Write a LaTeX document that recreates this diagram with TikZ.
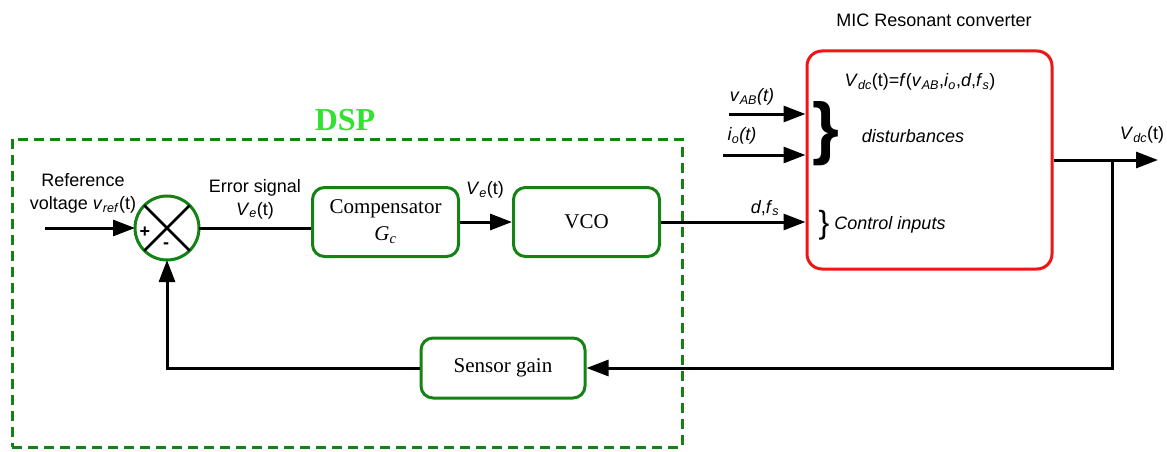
\documentclass[tikz,border=0pt]{standalone}
\usepackage{fontspec}
\setmainfont{Liberation Sans}
\newfontfamily\timesfont{Liberation Serif}
\usetikzlibrary{positioning,arrows.meta}
\definecolor{boxgreen}{RGB}{20,130,20}
\definecolor{dspgreen}{RGB}{50,225,50}
\definecolor{convred}{RGB}{240,20,20}
\newcommand{\vsub}[2]{\textit{#1}\textsubscript{\textit{#2}}}

\begin{document}
\begin{tikzpicture}[x=1pt,y=-1pt,line width=3pt,
                    >={Triangle[length=22pt,width=16pt]},
                    every node/.style={font=\fontsize{18}{23}\selectfont},
                    block/.style={draw=boxgreen,rounded corners=12pt,minimum width=146pt,minimum height=69pt,
                                  align=center,font=\timesfont\fontsize{21}{27}\selectfont},
                    sum node/.style={circle,draw=boxgreen,minimum size=64pt,inner sep=0pt,outer sep=0pt}]
	\useasboundingbox (0,0) rectangle (1167,452);

	% DSP frame
	\node[draw=boxgreen,dash pattern=on 10pt off 6pt,minimum width=670pt,minimum height=308pt] (dsp) at (347,293) {};
	\node[font=\timesfont\bfseries\fontsize{32}{32}\selectfont,text=dspgreen] (dsptxt) at (345,120) {DSP};

	% summing junction
	\node[sum node] (sum) at (167,228) {};
	\draw[line width=2.6pt] (sum.135) -- (sum.-45) (sum.45) -- (sum.-135);
	\node[font=\bfseries\fontsize{18}{18}\selectfont] (plus) at (145,232) {+};
	\node[font=\bfseries\fontsize{18}{18}\selectfont] (minus) at (166,246) {-};
	\coordinate (in) at (45,228);
	\node[align=center] (reftxt) at (83,193) {Reference\\voltage \vsub{v}{ref}(t)};
	\node[align=center] (errtxt) at (255,199) {Error signal\\\vsub{V}{e}(t)};

	% blocks
	\node[block] (comp) at (385.5,222) {Compensator\\\textit{G}\textsubscript{\textit{c}}};
	\node[block] (vco) [right=52pt of comp] {VCO};
	\node[block,minimum width=164pt,minimum height=60pt] (sensor) at (503,368) {Sensor gain};
	\node (vetxt) at (485,190) {\vsub{V}{e}(t)};

	% converter
	\node[draw=convred,rounded corners=15pt,minimum width=245pt,minimum height=218pt] (conv) at (929.5,160) {};
	\node (convtxt) at (934,20) {MIC Resonant converter};
	\node (fxtxt) at (920,82) {\vsub{V}{dc}(t)=\textit{f}(\vsub{v}{AB},\vsub{i}{o},\textit{d},\vsub{f}{s})};
	\node (vabtxt) at (752,97) {\vsub{v}{AB}\textit{(t)}};
	\node (iotxt) at (742,136) {\vsub{i}{o}\textit{(t)}};
	\node (dftxt) at (765,208) {\textit{d},\vsub{f}{s}};
	\coordinate (vabin) at (729,114);
	\coordinate (ioin) at (723,155);
	\node[font=\bfseries\fontsize{69}{69}\selectfont,inner sep=0pt] (bigbrace) at (826,134) {\}};
	\node (disttxt) at (913,136) {\textit{disturbances}};
	\node[font=\fontsize{32}{32}\selectfont,inner sep=0pt] (ctlbrace) at (824,225) {\}};
	\node (ctltxt) at (890,225) {\textit{Control inputs}};

	% output and feedback
	\coordinate (vout) at (1158,160);
	\coordinate (branch) at (1112,160);
	\node (vouttxt) at (1142,135) {\vsub{V}{dc}(t)};

	\draw[->] (in) -- (sum);
	\draw (sum) -- (sum -| comp.west);
	\draw[->] (comp) -- (vco);
	\draw[->] (vco) -- (vco -| conv.west);
	\draw[->] (vabin) -- (vabin -| conv.west);
	\draw[->] (ioin) -- (ioin -| conv.west);
	\draw[->] (conv.east) -- (vout);
	\draw[->] (branch) |- (sensor);
	\draw[->] (sensor) -| (sum);
\end{tikzpicture}
\end{document}
